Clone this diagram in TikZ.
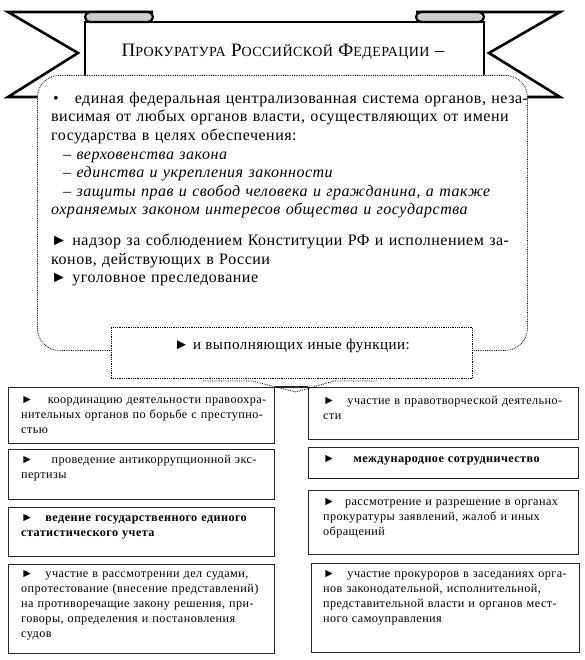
\documentclass[tikz,border=0pt]{standalone}
\usepackage{fontspec}
\setmainfont{Liberation Serif}[LetterSpace=3.2]
\newfontfamily\boxfont{Liberation Serif}[LetterSpace=3.5]
\usetikzlibrary{positioning}
\setlength{\parindent}{0pt}

\newcommand{\tri}{►}
\newcommand{\smc}[1]{{\fontsize{14}{14}\selectfont #1}}
\newcommand{\fullline}[1]{\makebox[\hsize][s]{#1}}

\begin{document}
\begin{tikzpicture}[x=1pt,y=-1pt,
  ribbon/.style={draw, line width=2.6pt, fill=white},
  fold/.style={draw, line width=2.2pt, fill=gray!40},
  mainbox/.style={draw, densely dotted, line width=0.8pt, rounded corners=22pt, fill=white, anchor=north west, inner sep=0pt},
  callbox/.style={draw, densely dotted, line width=0.8pt, fill=white, anchor=north west, inner sep=0pt},
  funcbox/.style={draw=black!85, line width=1.4pt, fill=white, anchor=north west, inner sep=0pt},
  maintext/.style={anchor=north west, inner sep=0pt, text width=471pt, align=left, font=\fontsize{16}{18.6}\selectfont},
  functext/.style={anchor=north west, inner sep=0pt, text width=#1, align=left, font=\boxfont\fontsize{12.2}{15}\selectfont},
]
\useasboundingbox (0,0) rectangle (585,660);

% ribbon tails
\draw[ribbon] (153,12) -- (8,12) -- (78,53) -- (8,97) -- (100,97);
\draw[ribbon] (416,12) -- (560,12) -- (489,53) -- (560,97) -- (470,97);
% ribbon front and folds
\draw[ribbon] (85,80) -- (85,22) -- (484,22) -- (484,80);
\draw[fold] (90,12) -- (148,12) arc[start angle=-90, end angle=90, radius=5] -- (90,22) arc[start angle=90, end angle=270, radius=5] -- cycle;
\draw[fold] (421,12) -- (479,12) arc[start angle=-90, end angle=90, radius=5] -- (421,22) arc[start angle=90, end angle=270, radius=5] -- cycle;
\node[font=\fontsize{19}{19}\selectfont] (title) at (283,52) {П\smc{РОКУРАТУРА} Р\smc{ОССИЙСКОЙ} Ф\smc{ЕДЕРАЦИИ} –};

% main definition
\node[mainbox, minimum width=490pt, minimum height=275pt] (main) at (37,75) {};
\node[maintext] (maintxt) at (51,92) {%
\fullline{\hspace*{2pt}•\hspace{1em}единая федеральная централизованная система органов, неза-}\\
\fullline{висимая от любых органов власти, осуществляющих от имени}\\
государства в целях обеспечения:\\
\hspace*{12pt}– \textit{верховенства закона}\\
\hspace*{12pt}– \textit{единства и укрепления законности}\\
\fullline{\hspace*{12pt}– \textit{защиты прав и свобод человека и гражданина, а также}}\\
\textit{охраняемых законом интересов общества и государства}\\[12pt]
\fullline{\tri\ надзор за соблюдением Конституции РФ и исполнением за-}\\
конов, действующих в России\\
\tri\ уголовное преследование};

% other functions
\node[callbox, minimum width=361pt, minimum height=51pt] (call) at (111,327) {};
\node[font=\fontsize{15}{15}\selectfont] (calltxt) at (292,346) {\tri\ и выполняющих иные функции:};

\node[funcbox, minimum width=266pt, minimum height=56pt] (l1) at (8,387) {};
\node[funcbox, minimum width=266pt, minimum height=50pt] (l2) at (8,449) {};
\node[funcbox, minimum width=266pt, minimum height=49pt] (l3) at (8,507) {};
\node[funcbox, minimum width=266pt, minimum height=89pt] (l4) at (8,564) {};
\node[funcbox, minimum width=270pt, minimum height=52pt] (r1) at (308,387) {};
\node[funcbox, minimum width=270pt, minimum height=31pt] (r2) at (308,447) {};
\node[funcbox, minimum width=270pt, minimum height=64pt] (r3) at (308,490) {};
\node[funcbox, minimum width=268pt, minimum height=89pt] (r4) at (311,563) {};
\draw[line width=1.4pt, draw=black!85] (l1.north east) -- (r1.north west);

% callout pointer
\draw[densely dotted, line width=0.8pt] (203,381) -- (252,381) -- (296,392) -- (334,381) -- (377,381);

\node[functext=246pt] (l1txt) at (21,396) {%
\fullline{\tri\hspace{1.2em}координацию деятельности правоохра-}\\
\fullline{нительных органов по борьбе с преступно-}\\
стью};
\node[functext=246pt] (l2txt) at (21,455) {%
\fullline{\tri\hspace{1.5em}проведение антикоррупционной экс-}\\
пертизы};
\node[functext=246pt] (l3txt) at (21,514) {\bfseries
\mbox{\tri\hspace{1em}ведение государственного единого}\\
статистического учета};
\node[functext=246pt] (l4txt) at (21,570) {%
\mbox{\tri\hspace{1em}участие в рассмотрении дел судами,}\\
\mbox{опротестование (внесение представлений)}\\
\fullline{на противоречащие закону решения, при-}\\
\mbox{говоры, определения и постановления}\\
судов};

\node[functext=245pt] (r1txt) at (323,396) {%
\fullline{\tri\hspace{1em}участие в правотворческой деятельно-}\\
сти};
\node[functext=245pt] (r2txt) at (323,455) {\bfseries
\tri\hspace{1.5em}международное сотрудничество};
\node[functext=245pt] (r3txt) at (323,498) {%
\fullline{\tri\hspace{0.8em}рассмотрение и разрешение в органах}\\
\fullline{прокуратуры заявлений, жалоб и иных}\\
обращений};
\node[functext=245pt] (r4txt) at (323,570) {%
\fullline{\tri\hspace{1em}участие прокуроров в заседаниях орга-}\\
\mbox{нов законодательной, исполнительной,}\\
\fullline{представительной власти и органов мест-}\\
ного самоуправления};
\end{tikzpicture}
\end{document}
